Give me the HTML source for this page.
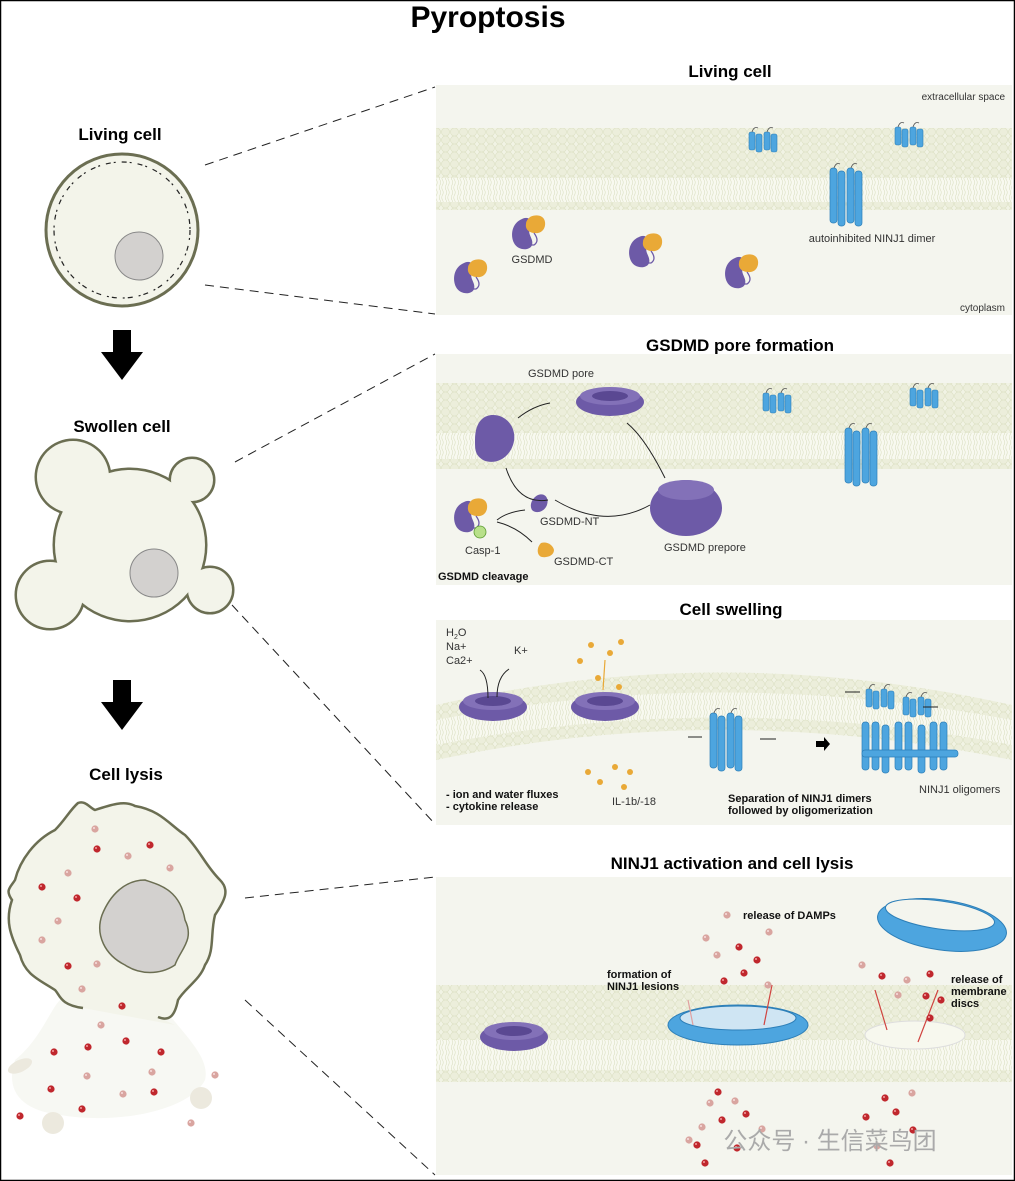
<!DOCTYPE html>
<html><head><meta charset="utf-8"><style>
body{margin:0;background:#fff}
svg{display:block;font-family:"Liberation Sans",sans-serif}
</style></head><body>
<svg width="1015" height="1181" viewBox="0 0 1015 1181" xmlns="http://www.w3.org/2000/svg">
<defs>
<pattern id="heads" width="9" height="8" patternUnits="userSpaceOnUse">
<rect width="9" height="8" fill="#f1f3e4"/>
<circle cx="4.5" cy="4" r="4" fill="#eceedb" stroke="#dce0c3" stroke-width="0.6"/>
</pattern>
<pattern id="tails" width="6" height="10" patternUnits="userSpaceOnUse">
<rect width="6" height="10" fill="#f8f9f0"/>
<path d="M2 0 q1.5 2.5 0 5 q-1.5 2.5 0 5 M4.5 0 q1.5 2.5 0 5 q-1.5 2.5 0 5" stroke="#dce0c3" stroke-width="0.6" fill="none"/>
</pattern>
<g id="gsdmd">
<path d="M-6 -14 c8 -4 12 4 8 10 c-3 5 4 10 2 16 c-2 6 -14 6 -18 -2 c-4 -8 -2 -20 8 -24z" fill="#6d5aa7"/>
<path d="M2 -16 c6 -3 14 -2 15 5 c1 7 -4 12 -10 11 c-6 0 -10 -4 -9 -9 c0 -3 2 -5 4 -7z" fill="#e9a937"/>
<path d="M6 0 q6 8 0 12 l-4 0" stroke="#6d5aa7" fill="none" stroke-width="1.3"/>
</g>
<g id="dimer">
<rect x="0" y="0" width="6" height="18" rx="2" fill="#4da5df" stroke="#2d7fb8" stroke-width="0.6"/>
<rect x="7" y="2" width="6" height="18" rx="2" fill="#4da5df" stroke="#2d7fb8" stroke-width="0.6"/>
<rect x="15" y="0" width="6" height="18" rx="2" fill="#4da5df" stroke="#2d7fb8" stroke-width="0.6"/>
<rect x="22" y="2" width="6" height="18" rx="2" fill="#4da5df" stroke="#2d7fb8" stroke-width="0.6"/>
<path d="M3 0 q2 -6 6 -4 M18 0 q2 -6 6 -4" stroke="#555" fill="none" stroke-width="0.8"/>
</g>
<g id="tall">
<rect x="0" y="0" width="7" height="55" rx="3" fill="#4da5df" stroke="#2d7fb8" stroke-width="0.7"/>
<rect x="8" y="3" width="7" height="55" rx="3" fill="#4da5df" stroke="#2d7fb8" stroke-width="0.7"/>
<rect x="17" y="0" width="7" height="55" rx="3" fill="#4da5df" stroke="#2d7fb8" stroke-width="0.7"/>
<rect x="25" y="3" width="7" height="55" rx="3" fill="#4da5df" stroke="#2d7fb8" stroke-width="0.7"/>
<path d="M4 0 q2 -6 6 -4 M21 0 q2 -6 6 -4" stroke="#555" fill="none" stroke-width="0.8"/>
</g>
<g id="pore">
<ellipse cx="0" cy="0" rx="34" ry="14" fill="#6d5aa7"/>
<ellipse cx="0" cy="-6" rx="30" ry="9" fill="#8371b8"/>
<ellipse cx="0" cy="-6" rx="18" ry="5" fill="#5a4892"/>
</g>
<g id="red"><circle r="3.6" fill="#c0272d"/><circle cx="-1" cy="-1" r="1" fill="#f3a0a0"/></g>
<g id="pink"><circle r="3.6" fill="#d9a5a0"/><circle cx="-1" cy="-1" r="1" fill="#f7dede"/></g>
</defs>

<rect x="0.5" y="0.5" width="1014" height="1180" fill="#fff" stroke="#000" stroke-width="1.5"/>
<text x="488" y="27" font-size="30" font-weight="bold" text-anchor="middle">Pyroptosis</text>

<!-- Left column -->
<text x="120" y="140" font-size="17" font-weight="bold" text-anchor="middle">Living cell</text>
<circle cx="122" cy="230" r="76" fill="#f3f4ea" stroke="#6b6e52" stroke-width="3"/>
<circle cx="122" cy="230" r="68" fill="none" stroke="#222" stroke-width="1.2" stroke-dasharray="5 3 2 6"/>
<circle cx="139" cy="256" r="24" fill="#d3d1cf" stroke="#888" stroke-width="1"/>
<polygon points="113,330 131,330 131,352 143,352 122,380 101,352 113,352" fill="#000"/>

<text x="122" y="432" font-size="17" font-weight="bold" text-anchor="middle">Swollen cell</text>
<g stroke="#6b6e52" stroke-width="5" fill="#6b6e52">
<circle cx="73" cy="477" r="36"/><circle cx="192" cy="480" r="21"/><circle cx="50" cy="595" r="33"/><circle cx="210" cy="590" r="22"/><circle cx="130" cy="545" r="75"/>
</g>
<g fill="#f3f4ea">
<circle cx="73" cy="477" r="36"/><circle cx="192" cy="480" r="21"/><circle cx="50" cy="595" r="33"/><circle cx="210" cy="590" r="22"/><circle cx="130" cy="545" r="75"/>
</g>
<circle cx="154" cy="573" r="24" fill="#d3d1cf" stroke="#888" stroke-width="1"/>
<polygon points="113,680 131,680 131,702 143,702 122,730 101,702 113,702" fill="#000"/>

<text x="126" y="780" font-size="17" font-weight="bold" text-anchor="middle">Cell lysis</text>
<path d="M60 1000 C50 1010 40 1040 15 1060 C5 1090 20 1110 60 1115 C120 1125 190 1110 205 1080 C210 1060 190 1040 165 1010 Z" fill="#f7f8f3"/>
<path d="M83 1008 C60 1005 60 995 55 990 C40 980 25 975 20 955 C10 935 5 920 12 900 C5 890 10 888 15 880 C20 860 35 840 55 830 C65 820 70 810 78 803 C85 800 90 808 95 810 C110 805 125 800 135 806 C160 810 170 825 185 835 C200 850 205 865 220 880 C230 890 225 900 215 915 C210 935 215 950 205 965 C200 980 185 988 178 1000 C175 1015 170 1022 158 1017 L175 1025 L83 1008 Z" fill="#f3f4ea"/>
<path d="M83 1008 C60 1005 60 995 55 990 C40 980 25 975 20 955 C10 935 5 920 12 900 C5 890 10 888 15 880 C20 860 35 840 55 830 C65 820 70 810 78 803 C85 800 90 808 95 810 C110 805 125 800 135 806 C160 810 170 825 185 835 C200 850 205 865 220 880 C230 890 225 900 215 915 C210 935 215 950 205 965 C200 980 185 988 178 1000 C175 1015 170 1022 158 1017" fill="none" stroke="#6b6e52" stroke-width="2.5"/>
<path d="M145 880 C160 885 180 890 185 920 C195 940 180 950 175 965 C160 975 140 975 125 965 C105 955 95 935 102 915 C110 895 125 880 145 880 Z" fill="#d3d1cf" stroke="#6b6e52" stroke-width="1.5"/>
<ellipse cx="20" cy="1066" rx="13" ry="6" fill="#ece9de" transform="rotate(-25 20 1066)"/>
<circle cx="53" cy="1123" r="11" fill="#ece9de"/>
<circle cx="201" cy="1098" r="11" fill="#ece9de"/>
<g>
<use href="#pink" x="95" y="829"/><use href="#red" x="97" y="849"/><use href="#red" x="150" y="845"/><use href="#pink" x="128" y="856"/><use href="#pink" x="68" y="873"/><use href="#pink" x="170" y="868"/><use href="#red" x="42" y="887"/><use href="#red" x="77" y="898"/><use href="#pink" x="58" y="921"/><use href="#pink" x="42" y="940"/><use href="#red" x="68" y="966"/><use href="#pink" x="97" y="964"/><use href="#pink" x="82" y="989"/><use href="#red" x="122" y="1006"/><use href="#pink" x="101" y="1025"/><use href="#red" x="126" y="1041"/><use href="#red" x="54" y="1052"/><use href="#red" x="88" y="1047"/><use href="#red" x="161" y="1052"/><use href="#pink" x="87" y="1076"/><use href="#pink" x="152" y="1072"/><use href="#red" x="51" y="1089"/><use href="#pink" x="123" y="1094"/><use href="#red" x="154" y="1092"/><use href="#red" x="82" y="1109"/><use href="#pink" x="215" y="1075"/><use href="#red" x="20" y="1116"/><use href="#pink" x="191" y="1123"/>
</g>

<!-- dashed connectors -->
<g stroke="#222" stroke-width="1" stroke-dasharray="9 6" fill="none">
<line x1="205" y1="165" x2="435" y2="87"/>
<line x1="205" y1="285" x2="435" y2="314"/>
<line x1="235" y1="462" x2="435" y2="354"/>
<line x1="232" y1="605" x2="435" y2="824"/>
<line x1="245" y1="898" x2="435" y2="877"/>
<line x1="245" y1="1000" x2="435" y2="1175"/>
</g>

<!-- Panel 1 -->
<text x="730" y="77" font-size="17" font-weight="bold" text-anchor="middle">Living cell</text>
<rect x="436" y="85" width="576" height="230" fill="#f4f5ee"/>
<rect x="436" y="128" width="576" height="50" fill="url(#heads)"/>
<rect x="436" y="178" width="576" height="24" fill="url(#tails)"/>
<rect x="436" y="202" width="576" height="8" fill="url(#heads)"/>
<text x="1005" y="100" font-size="10" fill="#333" text-anchor="end">extracellular space</text>
<text x="1005" y="311" font-size="10" fill="#333" text-anchor="end">cytoplasm</text>
<use href="#dimer" x="749" y="132"/>
<use href="#dimer" x="895" y="127"/>
<use href="#tall" x="830" y="168"/>
<text x="872" y="242" font-size="11" fill="#333" text-anchor="middle">autoinhibited NINJ1 dimer</text>
<use href="#gsdmd" x="528" y="233"/>
<text x="532" y="263" font-size="11" fill="#333" text-anchor="middle">GSDMD</text>
<use href="#gsdmd" x="470" y="277"/>
<use href="#gsdmd" x="645" y="251"/>
<use href="#gsdmd" x="741" y="272"/>

<!-- Panel 2 -->
<text x="740" y="351" font-size="17" font-weight="bold" text-anchor="middle">GSDMD pore formation</text>
<rect x="436" y="354" width="576" height="231" fill="#f4f5ee"/>
<rect x="436" y="383" width="576" height="50" fill="url(#heads)"/>
<rect x="436" y="433" width="576" height="26" fill="url(#tails)"/>
<rect x="436" y="459" width="576" height="10" fill="url(#heads)"/>
<use href="#dimer" x="763" y="393"/>
<use href="#dimer" x="910" y="388"/>
<use href="#tall" x="845" y="428"/>
<text x="561" y="377" font-size="11" fill="#333" text-anchor="middle">GSDMD pore</text>
<use href="#pore" x="610" y="402"/>
<path d="M475 440 c0 -20 10 -25 18 -25 c15 0 25 15 20 30 c-5 15 -20 20 -30 15 c-8 -5 -8 -10 -8 -20z" fill="#6d5aa7"/>
<ellipse cx="686" cy="508" rx="36" ry="28" fill="#6d5aa7"/>
<ellipse cx="686" cy="490" rx="28" ry="10" fill="#8371b8"/>
<use href="#gsdmd" x="470" y="516"/>
<circle cx="480" cy="532" r="6" fill="#b8e08a" stroke="#5a9a30" stroke-width="0.8"/>
<path d="M538 495 c8 -3 12 5 8 12 c-3 5 -10 7 -14 3 c-3 -5 0 -12 6 -15z" fill="#6d5aa7"/>
<path d="M541 543 c6 -2 12 2 13 7 c0 5 -6 8 -12 7 c-5 -1 -6 -9 -1 -14z" fill="#e9a937"/>
<g stroke="#222" stroke-width="1" fill="none">
<path d="M518 418 q15 -12 32 -15"/><path d="M548 500 q-30 5 -42 -32"/><path d="M555 500 q50 30 95 5"/><path d="M665 478 q-20 -40 -38 -55"/><path d="M497 520 q10 -8 28 -10"/><path d="M497 522 q20 5 35 20"/>
</g>
<text x="540" y="525" font-size="11" fill="#333">GSDMD-NT</text>
<text x="554" y="565" font-size="11" fill="#333">GSDMD-CT</text>
<text x="664" y="551" font-size="11" fill="#333">GSDMD prepore</text>
<text x="465" y="554" font-size="11" fill="#333">Casp-1</text>
<text x="438" y="580" font-size="11" font-weight="bold" fill="#111">GSDMD cleavage</text>

<!-- Panel 3 -->
<text x="731" y="615" font-size="17" font-weight="bold" text-anchor="middle">Cell swelling</text>
<rect x="436" y="620" width="576" height="205" fill="#f4f5ee"/>
<path d="M436 705 Q720 640 1012 705 L1012 760 Q720 700 436 760 Z" fill="url(#heads)"/>
<path d="M436 720 Q720 665 1012 720 L1012 745 Q720 690 436 745 Z" fill="url(#tails)"/>
<use href="#pore" x="493" y="707"/>
<use href="#pore" x="605" y="707"/>
<use href="#tall" x="710" y="713"/>
<use href="#dimer" x="866" y="689"/>
<use href="#dimer" x="903" y="697"/>
<g fill="#4da5df" stroke="#2d7fb8" stroke-width="0.7">
<rect x="862" y="722" width="7" height="48" rx="3"/><rect x="872" y="722" width="7" height="48" rx="3"/><rect x="882" y="725" width="7" height="48" rx="3"/><rect x="895" y="722" width="7" height="48" rx="3"/><rect x="905" y="722" width="7" height="48" rx="3"/><rect x="918" y="725" width="7" height="48" rx="3"/><rect x="930" y="722" width="7" height="48" rx="3"/><rect x="940" y="722" width="7" height="48" rx="3"/>
<rect x="862" y="750" width="96" height="7" rx="3"/>
</g>
<polygon points="816,741 824,741 824,737 830,744 824,751 824,747 816,747" fill="#000"/>
<g stroke="#222" stroke-width="1" fill="none"><line x1="688" y1="737" x2="702" y2="737"/><line x1="760" y1="739" x2="776" y2="739"/><line x1="845" y1="692" x2="860" y2="692"/><line x1="923" y1="707" x2="938" y2="707"/><path d="M480 670 q8 5 8 28"/><path d="M497 697 q0 -20 12 -28"/></g>
<path d="M603 690 l2 -30" stroke="#e9a937" stroke-width="1.2"/>
<g fill="#e9a937"><circle cx="591" cy="645" r="3"/><circle cx="621" cy="642" r="3"/><circle cx="610" cy="653" r="3"/><circle cx="580" cy="661" r="3"/><circle cx="598" cy="678" r="3"/><circle cx="619" cy="687" r="3"/><circle cx="588" cy="772" r="3"/><circle cx="600" cy="782" r="3"/><circle cx="615" cy="767" r="3"/><circle cx="630" cy="772" r="3"/><circle cx="624" cy="787" r="3"/></g>
<text x="446" y="636" font-size="11" fill="#333">H<tspan font-size="7" dy="3">2</tspan><tspan dy="-3">O</tspan></text>
<text x="446" y="650" font-size="11" fill="#333">Na+</text>
<text x="446" y="664" font-size="11" fill="#333">Ca2+</text>
<text x="514" y="654" font-size="11" fill="#333">K+</text>
<text x="446" y="798" font-size="11" font-weight="bold" fill="#111">- ion and water fluxes</text>
<text x="446" y="810" font-size="11" font-weight="bold" fill="#111">- cytokine release</text>
<text x="612" y="805" font-size="11" fill="#333">IL-1b/-18</text>
<text x="728" y="802" font-size="11" font-weight="bold" fill="#111">Separation of NINJ1 dimers</text>
<text x="728" y="814" font-size="11" font-weight="bold" fill="#111">followed by oligomerization</text>
<text x="919" y="793" font-size="11" fill="#333">NINJ1 oligomers</text>

<!-- Panel 4 -->
<text x="732" y="869" font-size="17" font-weight="bold" text-anchor="middle">NINJ1 activation and cell lysis</text>
<rect x="436" y="877" width="576" height="298" fill="#f4f5ee"/>
<rect x="436" y="985" width="576" height="55" fill="url(#heads)"/>
<rect x="436" y="1040" width="576" height="30" fill="url(#tails)"/>
<rect x="436" y="1070" width="576" height="12" fill="url(#heads)"/>
<use href="#pore" x="514" y="1037"/>
<ellipse cx="738" cy="1025" rx="70" ry="20" fill="#4da5df" stroke="#2d7fb8"/>
<ellipse cx="738" cy="1018" rx="58" ry="12" fill="#cfe5f3" stroke="#2d7fb8"/>
<ellipse cx="942" cy="925" rx="65" ry="25" fill="#4da5df" stroke="#2d7fb8" transform="rotate(8 942 925)"/>
<ellipse cx="940" cy="915" rx="55" ry="14" fill="#f4f5ee" stroke="#2d7fb8" transform="rotate(8 940 915)"/>
<ellipse cx="915" cy="1035" rx="50" ry="14" fill="#f7f8ee" stroke="#ddd"/>
<g stroke="#d0433f" stroke-width="1.2"><line x1="764" y1="1025" x2="772" y2="985"/><line x1="887" y1="1030" x2="875" y2="990"/><line x1="918" y1="1042" x2="938" y2="990"/><line x1="693" y1="1025" x2="688" y2="1000" stroke="#e0a0a0"/></g>
<text x="743" y="919" font-size="11" font-weight="bold" fill="#111">release of DAMPs</text>
<text x="607" y="978" font-size="11" font-weight="bold" fill="#111">formation of</text>
<text x="607" y="990" font-size="11" font-weight="bold" fill="#111">NINJ1 lesions</text>
<text x="951" y="983" font-size="11" font-weight="bold" fill="#111">release of</text>
<text x="951" y="995" font-size="11" font-weight="bold" fill="#111">membrane</text>
<text x="951" y="1007" font-size="11" font-weight="bold" fill="#111">discs</text>
<g>
<use href="#pink" x="727" y="915"/><use href="#pink" x="769" y="932"/><use href="#red" x="739" y="947"/><use href="#pink" x="706" y="938"/><use href="#red" x="757" y="960"/><use href="#pink" x="717" y="955"/><use href="#red" x="724" y="981"/><use href="#red" x="744" y="973"/><use href="#pink" x="768" y="985"/><use href="#pink" x="862" y="965"/><use href="#red" x="882" y="976"/><use href="#pink" x="907" y="980"/><use href="#red" x="930" y="974"/><use href="#red" x="926" y="996"/><use href="#pink" x="898" y="995"/><use href="#red" x="941" y="1000"/><use href="#red" x="930" y="1018"/>
<use href="#red" x="718" y="1092"/><use href="#pink" x="735" y="1101"/><use href="#red" x="746" y="1114"/><use href="#pink" x="710" y="1103"/><use href="#red" x="722" y="1120"/><use href="#pink" x="702" y="1127"/><use href="#red" x="697" y="1145"/><use href="#red" x="737" y="1148"/><use href="#pink" x="689" y="1140"/><use href="#red" x="705" y="1163"/><use href="#pink" x="762" y="1129"/><use href="#red" x="885" y="1098"/><use href="#pink" x="912" y="1093"/><use href="#red" x="896" y="1112"/><use href="#red" x="866" y="1117"/><use href="#pink" x="877" y="1146"/><use href="#red" x="913" y="1130"/><use href="#red" x="890" y="1163"/>
</g>
<text x="830" y="1149" font-size="24" fill="#aaa" text-anchor="middle" font-family="Liberation Sans, Noto Sans CJK SC, sans-serif">公众号 · 生信菜鸟团</text>
</svg>
</body></html>
